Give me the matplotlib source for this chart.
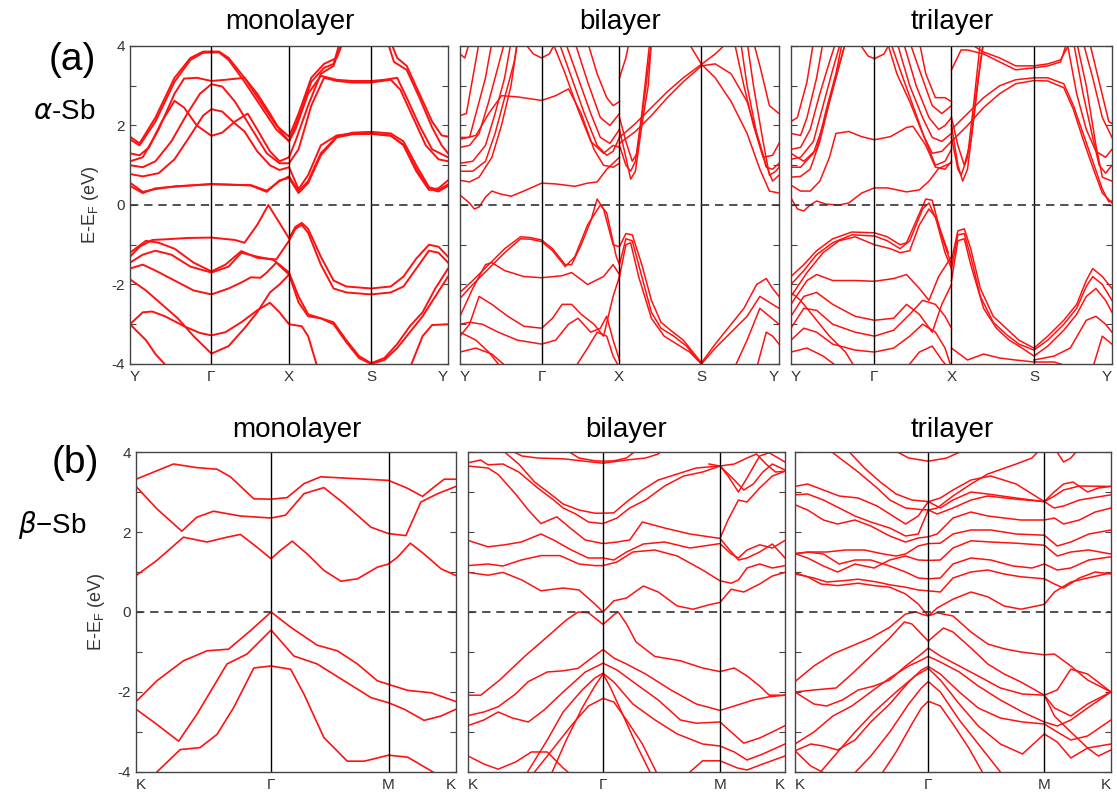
import matplotlib.pyplot as plt

plt.rcParams['font.family'] = ['Liberation Sans', 'DejaVu Sans']
plt.rcParams['mathtext.fontset'] = 'dejavusans'

# ---- high symmetry points (fraction of path length) ----
a_labels = ['Y', 'Γ', 'X', 'S', 'Y']
b_labels = ['K', 'Γ', 'M', 'K']
a1_sym = [0, 0.256, 0.50, 0.758, 1]
a2_sym = [0, 0.256, 0.499, 0.757, 1]
a3_sym = [0, 0.259, 0.50, 0.757, 1]
b1_sym = [0, 0.422, 0.789, 1]
b2_sym = [0, 0.426, 0.795, 1]
b3_sym = [0, 0.422, 0.789, 1]

# ---- alpha-Sb monolayer: bands as (k, E) ----
a1_bands = [
    [(0, .56), (.04, .33), (.08, .40), (.14, .47), (.256, .52), (.38, .50), (.43, .36), (.47, .60), (.50, .72), (.53, .35),
     (.56, .6), (.60, 1.3), (.65, 1.72), (.70, 1.82), (.758, 1.84), (.82, 1.8), (.86, 1.6), (.90, 1.0), (.94, .45), (.97, .38), (1, .52)],
    [(0, .48), (.04, .30), (.08, .42), (.14, .46), (.256, .53), (.38, .49), (.43, .33), (.47, .62), (.50, .68), (.53, .30),
     (.56, .55), (.60, 1.25), (.65, 1.7), (.70, 1.78), (.758, 1.79), (.82, 1.74), (.86, 1.52), (.90, .9), (.94, .4), (.97, .34), (1, .48)],
    [(0, .78), (.04, .72), (.09, .80), (.14, 1.15), (.19, 1.75), (.23, 2.25), (.256, 2.41), (.29, 2.35), (.33, 2.05), (.36, 1.85),
     (.40, 1.35), (.44, 1.0), (.47, .88), (.50, .95), (.53, .40), (.56, .75), (.60, 1.5), (.65, 1.75), (.70, 1.8), (.758, 1.8),
     (.82, 1.75), (.86, 1.5), (.90, .85), (.94, .38), (.97, .42), (1, .62)],
    [(0, 1.3), (.03, 1.25), (.06, 1.45), (.10, 2.1), (.14, 2.62), (.17, 2.45), (.21, 2.0), (.256, 1.74), (.29, 1.82), (.33, 2.1),
     (.37, 2.3), (.40, 1.9), (.44, 1.35), (.47, 1.1), (.50, 1.2), (.52, 1.6), (.56, 2.5), (.60, 3.3), (.64, 3.5), (.67, 4.2)],
    [(0, 1.0), (.04, .95), (.08, 1.1), (.13, 1.6), (.18, 2.3), (.22, 2.8), (.256, 3.04), (.29, 2.98), (.33, 2.6), (.38, 1.95),
     (.43, 1.3), (.47, 1.05), (.50, 1.05), (.53, 1.4), (.57, 2.5), (.61, 3.2), (.65, 3.12), (.70, 3.08), (.758, 3.08),
     (.82, 3.15), (.85, 2.9), (.89, 2.2), (.93, 1.5), (.97, 1.15), (1, 1.1)],
    [(0, 1.1), (.04, 1.2), (.09, 1.9), (.14, 2.8), (.17, 3.18), (.21, 3.2), (.256, 3.12), (.30, 3.15), (.36, 3.2), (.40, 2.8),
     (.44, 2.3), (.47, 1.9), (.50, 1.6), (.52, 1.9), (.56, 2.8), (.60, 3.25), (.65, 3.15), (.70, 3.12), (.758, 3.12),
     (.80, 3.15), (.84, 3.2), (.87, 2.7), (.91, 2.0), (.95, 1.4), (1, 1.2)],
    [(0, 1.72), (.03, 1.55), (.08, 2.2), (.14, 3.2), (.19, 3.7), (.23, 3.86), (.28, 3.86), (.31, 3.7), (.36, 3.2), (.41, 2.6),
     (.46, 2.0), (.50, 1.72), (.53, 2.3), (.57, 3.2), (.61, 3.55), (.65, 3.7), (.67, 4.1)],
    [(.82, 4.1), (.84, 3.7), (.87, 3.5), (.91, 2.8), (.95, 2.1), (.98, 1.75), (1, 1.72)],
    [(0, 1.65), (.03, 1.5), (.08, 2.1), (.14, 3.1), (.19, 3.65), (.23, 3.83), (.28, 3.84), (.31, 3.65), (.36, 3.1), (.41, 2.5),
     (.46, 1.9), (.50, 1.6), (.53, 2.2), (.57, 3.1), (.61, 3.45), (.64, 3.55), (.66, 4.1)],
    [(.81, 4.1), (.83, 3.6), (.87, 3.4), (.91, 2.7), (.95, 1.95), (.98, 1.5), (1, 1.3)],
    [(0, -1.3), (.03, -1.05), (.07, -.88), (.12, -.86), (.18, -.83), (.256, -.82), (.33, -.88), (.36, -.95), (.40, -.5), (.435, 0),
     (.47, -.45), (.50, -.84), (.52, -.55), (.54, -.45), (.56, -.6), (.60, -1.3), (.64, -1.9), (.68, -2.05), (.758, -2.1),
     (.82, -2.05), (.86, -1.8), (.90, -1.35), (.94, -1.0), (.97, -1.05), (1, -1.3)],
    [(0, -1.2), (.05, -.9), (.09, -.95), (.14, -1.1), (.20, -1.45), (.256, -1.67), (.30, -1.5), (.35, -1.16), (.40, -1.33),
     (.46, -1.37), (.50, -.9), (.52, -.6), (.54, -.5), (.56, -.7), (.60, -1.5), (.64, -2.1), (.68, -2.2), (.758, -2.25),
     (.82, -2.2), (.86, -2.05), (.90, -1.6), (.94, -1.15), (.97, -1.2), (1, -1.45)],
    [(0, -1.45), (.04, -1.25), (.08, -1.15), (.13, -1.25), (.19, -1.55), (.256, -1.70), (.31, -1.55), (.35, -1.2), (.40, -1.3),
     (.45, -1.38), (.47, -1.5), (.50, -1.7), (.53, -2.3), (.56, -2.75), (.60, -2.85), (.64, -2.95), (.68, -3.4), (.72, -3.8),
     (.758, -3.98), (.80, -3.85), (.84, -3.5), (.88, -3.05), (.92, -2.7), (.96, -2.1), (1, -1.6)],
    [(0, -1.6), (.04, -1.5), (.08, -1.65), (.14, -1.9), (.20, -2.15), (.256, -2.25), (.31, -2.1), (.35, -1.95), (.38, -1.82),
     (.41, -1.83), (.43, -1.7), (.46, -1.45), (.50, -1.75), (.53, -2.45), (.56, -2.8), (.60, -2.85), (.64, -3.0), (.68, -3.45),
     (.72, -3.85), (.758, -4.0), (.80, -3.9), (.84, -3.6), (.88, -3.2), (.92, -2.8), (.96, -2.3), (1, -1.8)],
    [(0, -1.87), (.05, -2.15), (.10, -2.5), (.15, -2.85), (.20, -3.3), (.256, -3.74), (.31, -3.55), (.36, -3.1), (.40, -2.7),
     (.44, -2.2), (.47, -2.0), (.50, -1.75)],
    [(0, -3.0), (.04, -2.7), (.07, -2.68), (.11, -2.8), (.17, -3.05), (.22, -3.22), (.256, -3.28), (.30, -3.2), (.35, -2.95),
     (.40, -2.65), (.44, -2.46), (.47, -2.7), (.50, -3.0), (.54, -3.05), (.56, -3.3), (.59, -4.1)],
    [(.88, -4.1), (.92, -3.3), (.95, -3.02), (1, -3.0)],
    [(0, -3.0), (.05, -3.4), (.08, -3.75), (.12, -4.1)],
]

# ---- alpha-Sb bilayer ----
a2_bands = [
    [(0, .25), (.03, .05), (.045, -.1), (.06, -.05), (.08, .2), (.10, .35), (.125, .28), (.16, .22), (.20, .35), (.256, .55),
     (.30, .53), (.36, .47), (.40, .55), (.43, .58), (.46, .9), (.50, 1.2)],
    [(0, .62), (.03, .58), (.06, .7), (.10, 1.2), (.13, 2.0), (.16, 3.0), (.18, 4.1)],
    [(0, .85), (.04, .85), (.08, 1.1), (.11, 1.8), (.14, 2.7), (.17, 3.6), (.18, 4.1)],
    [(0, 1.05), (.04, 1.1), (.08, 1.5), (.11, 2.3), (.14, 3.2), (.16, 4.1)],
    [(0, 1.45), (.03, 1.5), (.06, 1.8), (.09, 2.6), (.12, 3.5), (.14, 4.1)],
    [(0, 1.7), (.03, 1.7), (.05, 2.3), (.08, 3.2), (.10, 4.1)],
    [(0, 2.25), (.02, 2.3), (.04, 3.2), (.06, 4.1)],
    [(0, 3.8), (.015, 3.7), (.03, 4.1)],
    [(0, 1.65), (.05, 1.75), (.09, 2.3), (.13, 2.75), (.18, 2.72), (.256, 2.63), (.30, 2.75), (.34, 2.92), (.38, 2.3),
     (.42, 1.4), (.45, 1.0), (.48, .95), (.50, 1.05)],
    [(.2, 4.1), (.23, 3.8), (.256, 3.7), (.28, 3.8), (.30, 4.1)],
    [(.29, 4.1), (.33, 3.3), (.37, 2.4), (.41, 1.6), (.45, 1.3), (.48, 1.5), (.50, 1.45)],
    [(.31, 4.1), (.35, 3.2), (.39, 2.3), (.43, 1.5), (.46, 1.25), (.48, 1.35), (.50, 1.7)],
    [(.33, 4.1), (.37, 3.2), (.41, 2.3), (.44, 1.7), (.47, 1.55), (.50, 1.9)],
    [(.36, 4.1), (.40, 3.1), (.44, 2.2), (.47, 2.0), (.50, 2.3)],
    [(.40, 4.1), (.43, 3.3), (.46, 2.7), (.48, 2.5), (.50, 2.6)],
    [(.50, 3.2), (.52, 3.7), (.53, 4.1)],
    [(.50, 1.7), (.55, 2.05), (.60, 2.45), (.65, 2.85), (.70, 3.2), (.757, 3.54), (.80, 3.8), (.84, 4.1)],
    [(.50, 1.55), (.55, 1.85), (.60, 2.25), (.65, 2.7), (.70, 3.1), (.757, 3.5), (.80, 3.55), (.85, 3.3), (.90, 2.6),
     (.93, 1.8), (.96, 1.0), (.98, .6), (1, .75)],
    [(.70, 4.3), (.757, 3.54), (.80, 3.2), (.85, 2.6), (.90, 1.8), (.94, .9), (.97, .35), (1, .3)],
    [(.50, 1.9), (.52, 1.2), (.535, .65), (.55, .85), (.57, 2.0), (.59, 3.0), (.60, 4.1)],
    [(.50, 1.5), (.52, 1.0), (.535, .85), (.55, 1.1), (.57, 2.3), (.595, 4.1)],
    [(.50, 2.2), (.52, 1.6), (.54, 1.1), (.555, 1.3), (.58, 2.8), (.60, 4.1)],
    [(.88, 4.1), (.90, 3.0), (.93, 1.8), (.96, .95), (.98, .9), (1, 1.05)],
    [(.90, 4.1), (.92, 3.0), (.95, 1.6), (.97, .75), (.99, .85), (1, .95)],
    [(.86, 4.1), (.89, 3.0), (.92, 2.0), (.95, 1.2), (.98, 1.25), (1, 1.55)],
    [(.92, 4.1), (.94, 3.5), (.97, 2.5), (1, 2.3)],
    [(0, -2.2), (.04, -1.9), (.09, -1.5), (.14, -1.1), (.19, -.8), (.22, -.82), (.256, -.88), (.29, -1.1), (.33, -1.5),
     (.35, -1.5), (.38, -1.0), (.41, -.4), (.43, .15), (.45, -.1), (.48, -1.0), (.50, -1.05), (.52, -.72), (.54, -.75),
     (.57, -1.5), (.60, -2.4), (.63, -2.95), (.66, -3.15), (.70, -3.4), (.73, -3.7), (.757, -3.97), (.80, -3.5), (.85, -3.0),
     (.89, -2.6), (.93, -2.0), (.96, -1.85), (.98, -2.1), (1, -2.3)],
    [(0, -2.35), (.04, -2.0), (.09, -1.6), (.14, -1.2), (.19, -.85), (.22, -.86), (.256, -.92), (.29, -1.15), (.33, -1.55),
     (.36, -1.3), (.40, -.5), (.44, 0), (.46, -.2), (.49, -1.3), (.50, -1.5), (.52, -.85), (.54, -.9), (.57, -1.8),
     (.60, -2.7), (.63, -3.1), (.67, -3.3), (.71, -3.55), (.74, -3.85), (.757, -4.0)],
    [(.50, -1.8), (.52, -1.0), (.535, -.95), (.56, -1.8), (.60, -2.85), (.64, -3.3), (.68, -3.5), (.72, -3.7), (.757, -4.0)],
    [(0, -2.8), (.04, -2.1), (.08, -1.5), (.10, -1.45), (.14, -1.65), (.20, -1.8), (.256, -1.83), (.32, -1.78), (.35, -1.7),
     (.40, -2.0), (.45, -1.8), (.48, -1.5), (.50, -1.75)],
    [(0, -3.3), (.03, -3.0), (.06, -2.3), (.10, -2.5), (.15, -2.8), (.20, -3.05), (.256, -3.1), (.29, -2.85), (.32, -2.5),
     (.35, -2.5), (.38, -2.75), (.42, -3.0), (.45, -3.3), (.48, -2.3), (.50, -1.8)],
    [(0, -3.0), (.03, -2.95), (.07, -3.0), (.12, -3.2), (.18, -3.4), (.256, -3.5), (.30, -3.4), (.34, -3.0), (.37, -2.85),
     (.41, -3.2), (.44, -3.1), (.46, -2.8), (.48, -3.4), (.50, -3.9)],
    [(0, -3.7), (.05, -3.6), (.10, -3.75), (.15, -4.1)],
    [(0, -3.2), (.05, -3.4), (.09, -3.7), (.13, -4.1)],
    [(.36, -4.1), (.40, -3.6), (.43, -3.2), (.46, -3.3), (.48, -3.8), (.50, -4.1)],
    [(.757, -4.0), (.80, -3.6), (.85, -3.2), (.90, -2.8), (.94, -2.3), (.97, -2.45), (1, -2.6)],
    [(.86, -4.1), (.90, -3.4), (.94, -2.6), (.97, -2.8), (1, -3.0)],
    [(.93, -4.1), (.96, -3.2), (.98, -3.3), (1, -3.5)],
]

# ---- alpha-Sb trilayer ----
a3_bands = [
    [(0, .18), (.02, -.1), (.04, -.15), (.06, 0), (.08, .1), (.11, .02), (.15, 0), (.18, .05), (.22, .3), (.26, .43),
     (.30, .43), (.36, .33), (.40, .38), (.43, .6), (.46, .92), (.50, 1.06)],
    [(0, .5), (.03, .35), (.06, .35), (.09, .6), (.12, 1.2), (.14, 1.8), (.18, 1.85), (.22, 1.72), (.26, 1.64), (.31, 1.72),
     (.36, 1.95), (.38, 1.98), (.42, 1.5), (.45, .95), (.48, .9), (.50, 1.1)],
    [(0, .7), (.03, .72), (.06, .9), (.09, 1.6), (.12, 2.6), (.15, 3.5), (.17, 4.1)],
    [(0, .95), (.03, .95), (.07, 1.3), (.10, 2.0), (.13, 2.9), (.16, 3.8), (.17, 4.1)],
    [(0, 1.15), (.03, 1.2), (.07, 1.6), (.10, 2.5), (.13, 3.4), (.155, 4.1)],
    [(0, 1.4), (.03, 1.45), (.06, 1.9), (.09, 2.8), (.12, 3.6), (.14, 4.1)],
    [(0, 1.8), (.03, 1.75), (.05, 2.2), (.08, 3.2), (.10, 4.1)],
    [(0, 2.1), (.02, 2.2), (.05, 3.1), (.07, 4.1)],
    [(0, 1.3), (.04, 1.1), (.08, 1.4), (.11, 2.4), (.14, 3.3), (.16, 4.1)],
    [(.21, 4.1), (.24, 3.75), (.26, 3.68), (.29, 3.8), (.31, 4.1)],
    [(.31, 4.1), (.34, 3.4), (.38, 2.5), (.42, 1.6), (.45, 1.0), (.48, 1.1), (.50, 1.4)],
    [(.30, 4.1), (.33, 3.3), (.37, 2.6), (.41, 1.8), (.44, 1.3), (.47, 1.35), (.50, 1.6)],
    [(.33, 4.1), (.37, 3.0), (.41, 2.2), (.44, 1.7), (.47, 1.6), (.50, 1.8)],
    [(.35, 4.1), (.39, 3.0), (.43, 2.2), (.46, 1.9), (.48, 2.0), (.50, 2.2)],
    [(.37, 4.1), (.40, 3.4), (.44, 2.5), (.47, 2.3), (.50, 2.5)],
    [(.40, 4.1), (.42, 3.3), (.45, 2.7), (.48, 2.7), (.50, 2.6)],
    [(.50, 2.0), (.52, 1.0), (.535, .6), (.55, .9), (.57, 2.2), (.59, 3.6), (.60, 4.1)],
    [(.50, 1.7), (.52, .9), (.53, .75), (.55, 1.2), (.57, 2.6), (.59, 4.1)],
    [(.50, 2.2), (.52, 1.5), (.54, 1.0), (.56, 1.6), (.58, 3.0), (.60, 4.1)],
    [(.50, 1.9), (.55, 2.3), (.60, 2.7), (.65, 3.0), (.70, 3.15), (.757, 3.2), (.80, 3.2), (.85, 3.05), (.88, 2.5),
     (.91, 1.8), (.94, 1.1), (.97, .4), (.99, .08), (1, .1)],
    [(.50, 1.6), (.55, 2.0), (.60, 2.45), (.65, 2.8), (.70, 3.05), (.757, 3.13), (.80, 3.12), (.85, 2.95), (.88, 2.4),
     (.91, 1.65), (.94, .95), (.97, .3), (1, .05)],
    [(.50, 3.4), (.53, 3.9), (.55, 3.9), (.60, 3.8), (.65, 3.6), (.70, 3.4), (.757, 3.45), (.80, 3.5), (.84, 3.6), (.86, 4.1)],
    [(.55, 4.1), (.60, 3.85), (.65, 3.7), (.70, 3.5), (.757, 3.5), (.80, 3.55), (.84, 3.65), (.87, 4.1)],
    [(.86, 4.1), (.89, 2.8), (.92, 1.9), (.95, 1.35), (.98, 1.2), (1, 1.4)],
    [(.88, 4.1), (.91, 2.8), (.94, 1.7), (.96, 1.0), (.98, .8), (1, 1.0)],
    [(.89, 4.1), (.92, 3.0), (.95, 1.5), (.97, .7), (1, .6)],
    [(.91, 4.1), (.94, 3.2), (.97, 2.2), (1, 1.7)],
    [(.93, 4.1), (.96, 3.1), (.99, 2.1), (1, 2.05)],
    [(0, -1.8), (.04, -1.5), (.08, -1.15), (.13, -.85), (.19, -.68), (.26, -.7), (.30, -.8), (.34, -1.0), (.36, -.95),
     (.39, -.4), (.42, .15), (.44, .12), (.47, -.8), (.50, -1.5)],
    [(0, -2.0), (.04, -1.65), (.08, -1.25), (.13, -.95), (.19, -.75), (.26, -.78), (.30, -.9), (.34, -1.1), (.37, -.9),
     (.41, -.1), (.43, .05), (.46, -.5), (.49, -1.2)],
    [(0, -2.3), (.05, -1.7), (.10, -1.2), (.15, -.9), (.20, -.8), (.26, -1.0), (.31, -1.1), (.34, -1.2), (.37, -1.15),
     (.40, -.5), (.43, -.1), (.45, -.3), (.48, -1.2), (.50, -1.6)],
    [(0, -2.5), (.05, -1.9), (.08, -1.75), (.13, -1.9), (.20, -1.9), (.26, -1.92), (.32, -1.85), (.36, -1.75), (.40, -2.1),
     (.43, -2.4), (.46, -1.8), (.50, -1.3)],
    [(.50, -1.4), (.52, -.65), (.54, -.6), (.56, -1.1), (.59, -2.1), (.63, -2.8), (.67, -3.1), (.71, -3.4), (.757, -3.6),
     (.80, -3.3), (.85, -2.9), (.89, -2.5), (.92, -1.9), (.94, -1.6), (.97, -1.8), (1, -2.1)],
    [(.50, -1.6), (.52, -.75), (.54, -.72), (.56, -1.3), (.59, -2.3), (.63, -2.95), (.67, -3.25), (.71, -3.5), (.757, -3.65),
     (.80, -3.4), (.85, -3.0), (.89, -2.6), (.92, -2.05), (.94, -1.8), (.97, -2.0), (1, -2.4)],
    [(.50, -1.9), (.52, -.9), (.54, -.85), (.56, -1.5), (.60, -2.6), (.64, -3.1), (.68, -3.4), (.72, -3.6), (.757, -3.8),
     (.80, -3.55), (.85, -3.15), (.89, -2.75), (.92, -2.3), (.95, -2.1), (.98, -2.4), (1, -2.7)],
    [(.757, -3.9), (.82, -3.8), (.87, -3.6), (.92, -2.9), (.95, -2.8), (.98, -3.0), (1, -3.2)],
    [(0, -2.8), (.04, -2.3), (.08, -2.2), (.13, -2.5), (.20, -2.8), (.26, -2.9), (.32, -2.85), (.36, -2.5), (.40, -2.75),
     (.44, -3.2), (.47, -2.5), (.50, -2.0)],
    [(0, -3.1), (.04, -2.6), (.08, -2.65), (.13, -3.0), (.20, -3.2), (.26, -3.3), (.32, -3.15), (.37, -2.75), (.41, -2.4),
     (.45, -2.5), (.48, -2.8), (.50, -3.1)],
    [(0, -3.4), (.04, -3.1), (.08, -3.2), (.13, -3.5), (.20, -3.65), (.26, -3.7), (.32, -3.6), (.37, -3.3), (.41, -3.0),
     (.45, -3.2), (.48, -3.6), (.50, -4.1)],
    [(0, -3.7), (.05, -3.6), (.10, -3.8), (.15, -4.1)],
    [(.36, -4.1), (.40, -3.7), (.44, -3.55), (.47, -3.9), (.49, -4.1)],
    [(0, -2.2), (.03, -2.4), (.07, -2.8), (.12, -3.3), (.17, -3.7), (.20, -4.1)],
    [(.50, -3.6), (.55, -3.9), (.60, -3.75), (.65, -3.85), (.70, -3.9), (.757, -3.95), (.82, -3.95), (.88, -4.1)],
    [(.94, -4.1), (.97, -3.3), (1, -3.5)],
]

# ---- beta-Sb monolayer ----
b1_bands = [
    [(0, 3.32), (.117, 3.70), (.19, 3.61), (.253, 3.57), (.295, 3.38), (.368, 2.83), (.422, 2.82), (.472, 2.86), (.525, 3.21),
     (.577, 3.38), (.789, 3.29), (.849, 3.09), (.895, 2.89), (.932, 3.13), (.963, 3.32), (1, 3.32)],
    [(0, 3.14), (.065, 2.58), (.143, 2.02), (.19, 2.37), (.242, 2.52), (.326, 2.40), (.422, 2.35), (.467, 2.42), (.525, 2.96),
     (.587, 3.11), (.65, 2.71), (.734, 2.12), (.789, 1.96), (.843, 1.91), (.89, 2.75), (.943, 2.96), (1, 3.14)],
    [(0, .91), (.065, 1.29), (.148, 1.87), (.222, 1.75), (.284, 1.87), (.326, 1.94), (.378, 1.62), (.422, 1.33), (.451, 1.54),
     (.488, 1.77), (.535, 1.45), (.587, 1.04), (.64, .77), (.692, .83), (.754, 1.12), (.789, 1.20), (.817, 1.37), (.857, 1.72),
     (.90, 1.45), (.953, 1.08), (1, .91)],
    [(0, -2.24), (.065, -1.72), (.148, -1.22), (.222, -.97), (.289, -.93), (.357, -.47), (.422, 0), (.483, -.38), (.566, -.83),
     (.629, -.97), (.692, -1.30), (.754, -1.72), (.789, -1.81), (.849, -1.96), (.922, -2.02), (1, -2.24)],
    [(0, -2.43), (.065, -2.81), (.133, -3.23), (.19, -2.56), (.284, -1.30), (.347, -1.05), (.422, -.45), (.493, -1.10),
     (.566, -1.30), (.65, -1.72), (.734, -2.14), (.789, -2.27), (.838, -2.43), (.90, -2.71), (.953, -2.60), (1, -2.43)],
    [(.04, -4.3), (.065, -4.0), (.138, -3.44), (.20, -3.39), (.253, -3.06), (.305, -2.39), (.368, -1.40), (.422, -1.35),
     (.483, -1.43), (.525, -2.06), (.587, -3.14), (.66, -3.73), (.713, -3.73), (.789, -3.58), (.849, -3.63), (.932, -4.02),
     (.96, -4.3)],
]

# ---- beta-Sb bilayer ----
b2_bands = [
    [(0, .99), (.063, .92), (.11, .99), (.17, .8), (.23, .53), (.30, .6), (.35, .55), (.40, .2), (.426, 0), (.46, .28),
     (.50, .35), (.553, .65), (.60, .5), (.66, .15), (.71, .07), (.76, .18), (.795, .24), (.83, .57), (.87, .5), (.92, .7),
     (.96, .9), (1, .99)],
    [(0, 1.16), (.063, 1.2), (.11, 1.15), (.168, 1.3), (.23, 1.41), (.29, 1.41), (.35, 1.2), (.40, 1.16), (.426, 1.16),
     (.47, 1.25), (.52, 1.5), (.589, 1.55), (.66, 1.4), (.74, 1.05), (.795, .78), (.83, .72), (.853, .8), (.88, 1.1),
     (.92, 1.2), (.96, 1.1), (1, 1.16)],
    [(0, 1.79), (.063, 1.63), (.116, 1.68), (.168, 1.75), (.23, 1.95), (.27, 1.8), (.326, 1.55), (.379, 1.35), (.426, 1.35),
     (.46, 1.3), (.50, 1.5), (.553, 1.7), (.62, 1.75), (.70, 1.6), (.795, 1.71), (.83, 1.45), (.853, 1.35), (.88, 1.55),
     (.92, 1.68), (.96, 1.6), (1, 1.79)],
    [(0, 3.65), (.063, 3.6), (.095, 3.44), (.15, 2.95), (.19, 2.55), (.23, 2.21), (.28, 2.38), (.33, 2.05), (.37, 1.8),
     (.426, 1.71), (.47, 1.75), (.51, 1.8), (.55, 2.25), (.62, 2.1), (.70, 1.95), (.795, 1.84), (.82, 1.6), (.853, 1.3),
     (.88, 1.35), (.92, 1.5), (.96, 1.7), (1, 1.35)],
    [(0, 3.73), (.04, 3.8), (.063, 3.68), (.11, 3.7), (.16, 3.5), (.22, 3.1), (.27, 2.8), (.30, 2.6), (.34, 2.45),
     (.38, 2.25), (.426, 2.21), (.47, 2.35), (.51, 2.6), (.56, 2.8), (.62, 3.15), (.68, 3.4), (.74, 3.5), (.795, 3.65),
     (.84, 3.3), (.87, 3.05), (.90, 3.2), (.93, 3.5), (.96, 3.7), (1, 3.55)],
    [(.10, 4.1), (.16, 3.7), (.21, 3.25), (.26, 2.95), (.30, 2.7), (.35, 2.55), (.40, 2.47), (.426, 2.47), (.46, 2.48),
     (.50, 2.75), (.55, 3.05), (.60, 3.3), (.66, 3.45), (.72, 3.6), (.795, 3.65), (.84, 3.7), (.88, 3.85), (.91, 3.95),
     (.94, 3.7), (.97, 3.5), (1, 3.52)],
    [(.30, 4.1), (.35, 3.85), (.40, 3.78), (.426, 3.77), (.46, 3.78), (.50, 3.85), (.54, 4.1)],
    [(.12, 4.1), (.17, 3.9), (.22, 3.85), (.30, 3.83), (.426, 3.72), (.50, 3.8), (.56, 3.85), (.60, 3.95), (.62, 4.1)],
    [(.795, 1.84), (.82, 2.3), (.853, 2.8), (.88, 2.75), (.92, 3.1), (.96, 3.4), (1, 3.52)],
    [(.76, 3.7), (.795, 3.65), (.82, 3.4), (.853, 3.0), (.88, 3.35), (.92, 3.9), (.95, 3.98), (1, 3.75)],
    [(0, -2.08), (.04, -2.08), (.10, -1.7), (.18, -1.1), (.26, -.55), (.31, -.2), (.347, 0), (.38, -.02), (.426, -.31),
     (.463, -.05), (.474, 0), (.50, -.3), (.53, -.75), (.589, -1.11), (.67, -1.22), (.74, -1.4), (.795, -1.49), (.84, -1.4),
     (.88, -1.6), (.92, -1.85), (.95, -2.08), (1, -2.08)],
    [(0, -2.59), (.05, -2.5), (.095, -2.37), (.15, -2.05), (.19, -1.74), (.25, -1.5), (.30, -1.47), (.347, -1.41),
     (.39, -1.15), (.426, -.94), (.46, -1.15), (.50, -1.3), (.56, -1.55), (.64, -1.95), (.72, -2.3), (.795, -2.46),
     (.84, -2.35), (.90, -2.2), (.95, -2.12), (1, -2.08)],
    [(0, -2.84), (.05, -2.7), (.095, -2.5), (.14, -2.65), (.19, -2.75), (.24, -2.45), (.30, -2.0), (.37, -1.5), (.426, -1.28),
     (.47, -1.45), (.53, -1.8), (.60, -2.2), (.67, -2.7), (.72, -2.78), (.795, -2.75), (.83, -3.0), (.87, -3.28),
     (.92, -3.15), (.96, -3.0), (1, -2.84)],
    [(.18, -4.1), (.25, -3.2), (.30, -2.5), (.36, -1.95), (.40, -1.65), (.426, -1.53), (.46, -1.75), (.52, -2.3),
     (.59, -2.7), (.66, -3.05), (.74, -3.3), (.795, -3.35), (.84, -3.5), (.88, -3.7), (.93, -3.55), (1, -3.3)],
    [(.26, -4.1), (.31, -3.2), (.36, -2.4), (.40, -1.85), (.426, -1.55), (.45, -1.9), (.49, -2.6), (.53, -3.3), (.58, -4.1)],
    [(.20, -4.1), (.27, -3.4), (.33, -2.8), (.38, -2.35), (.426, -2.16), (.46, -2.25), (.50, -2.7), (.55, -3.3), (.60, -4.1)],
    [(0, -3.6), (.05, -3.8), (.095, -3.93), (.15, -3.75), (.20, -3.5), (.25, -3.5), (.30, -3.9), (.33, -4.1)],
    [(.70, -4.0), (.74, -3.72), (.795, -3.72), (.85, -3.9), (.88, -3.95), (.93, -3.8), (1, -3.6)],
]

# ---- beta-Sb trilayer ----
b3_bands = [
    [(0, .98), (.04, .88), (.082, .7), (.135, .66), (.20, .72), (.25, .66), (.30, .62), (.35, .45), (.39, .2), (.422, -.1),
     (.45, .1), (.50, .32), (.557, .5), (.61, .38), (.662, .15), (.715, .07), (.789, .19), (.821, .5), (.873, .75),
     (.926, .85), (1, .98)],
    [(0, .95), (.06, .85), (.10, .75), (.15, .78), (.20, .82), (.26, .75), (.30, .68), (.35, .62), (.39, .55), (.422, .53),
     (.46, .5), (.50, .85), (.557, 1.0), (.61, 1.05), (.662, .95), (.715, .88), (.789, .83), (.821, .7), (.85, .6),
     (.90, .85), (.95, 1.0), (1, .95)],
    [(0, 1.46), (.04, 1.5), (.09, 1.45), (.14, 1.2), (.19, 1.3), (.24, 1.3), (.30, 1.15), (.35, 1.0), (.39, .85), (.422, .83),
     (.46, .85), (.50, 1.2), (.557, 1.35), (.62, 1.3), (.69, 1.15), (.75, 1.1), (.789, 1.2), (.83, 1.05), (.873, 1.1),
     (.93, 1.3), (1, 1.38)],
    [(0, 1.46), (.04, 1.35), (.09, 1.15), (.135, 1.0), (.19, 1.2), (.25, 1.1), (.30, 1.3), (.35, 1.4), (.39, 1.3),
     (.422, 1.29), (.46, 1.3), (.50, 1.6), (.557, 1.78), (.62, 1.75), (.70, 1.72), (.789, 1.67), (.83, 1.4), (.873, 1.5),
     (.93, 1.55), (1, 1.45)],
    [(0, 1.46), (.05, 1.5), (.10, 1.5), (.16, 1.55), (.22, 1.55), (.28, 1.45), (.32, 1.4), (.35, 1.45), (.39, 1.65),
     (.422, 1.71), (.46, 1.72), (.50, 1.95), (.557, 2.05), (.62, 2.05), (.70, 1.95), (.789, 1.92), (.83, 1.65), (.873, 1.75),
     (.93, 1.95), (1, 2.05)],
    [(0, 2.68), (.04, 2.55), (.09, 2.3), (.135, 2.2), (.19, 2.3), (.24, 2.15), (.30, 1.9), (.35, 1.75), (.39, 1.85),
     (.422, 1.88), (.45, 1.95), (.50, 2.35), (.557, 2.5), (.61, 2.4), (.662, 2.35), (.715, 2.3), (.789, 2.3), (.821, 2.35),
     (.85, 2.2), (.90, 2.3), (.95, 2.5), (1, 2.6)],
    [(0, 2.93), (.04, 2.95), (.09, 2.8), (.14, 2.6), (.19, 2.4), (.24, 2.25), (.30, 2.1), (.35, 1.9), (.39, 1.95),
     (.422, 2.55), (.45, 2.45), (.50, 2.6), (.557, 2.8), (.61, 2.9), (.70, 2.82), (.789, 2.76), (.82, 2.6), (.85, 2.65),
     (.90, 2.8), (1, 2.93)],
    [(0, 3.14), (.04, 3.2), (.09, 3.05), (.14, 2.9), (.20, 2.85), (.26, 2.65), (.30, 2.45), (.35, 2.2), (.39, 2.4),
     (.422, 2.76), (.46, 2.6), (.50, 2.8), (.557, 3.0), (.61, 2.95), (.70, 2.85), (.789, 2.76), (.821, 2.9), (.85, 3.05),
     (.90, 3.15), (1, 3.14)],
    [(.10, 4.1), (.15, 3.8), (.20, 3.5), (.26, 3.1), (.30, 2.8), (.35, 2.6), (.40, 2.56), (.422, 2.55), (.45, 2.6),
     (.50, 2.9), (.557, 3.2), (.61, 3.45), (.70, 3.7), (.75, 3.85), (.78, 4.1)],
    [(.16, 4.1), (.22, 3.6), (.27, 3.25), (.32, 2.95), (.37, 2.8), (.422, 2.76), (.46, 2.85), (.50, 3.05), (.557, 3.3),
     (.62, 3.4), (.70, 3.2), (.789, 2.76)],
    [(.30, 4.1), (.36, 3.85), (.422, 3.77), (.48, 3.85), (.55, 4.1)],
    [(.821, 4.1), (.85, 3.75), (.873, 3.85), (.90, 4.1)],
    [(.789, 2.76), (.82, 3.0), (.85, 3.2), (.88, 3.25), (.926, 3.0), (.96, 3.1), (1, 3.14)],
    [(0, -1.74), (.06, -1.35), (.12, -1.05), (.18, -.85), (.24, -.65), (.30, -.38), (.35, -.05), (.383, 0), (.40, -.05),
     (.422, -.1), (.45, -.02), (.50, -.1), (.557, -.5), (.61, -.8), (.662, -.92), (.715, -1.0), (.789, -1.07), (.821, -1.05),
     (.873, -1.35), (.926, -1.7), (1, -2.0)],
    [(0, -2.0), (.06, -1.95), (.13, -1.9), (.18, -1.55), (.24, -1.1), (.30, -.65), (.346, -.25), (.37, -.3), (.40, -.55),
     (.422, -.73), (.44, -.6), (.47, -.4), (.50, -.5), (.557, -.9), (.61, -1.3), (.662, -1.55), (.715, -1.75), (.789, -2.08),
     (.821, -2.4), (.873, -2.6), (.926, -2.3), (1, -2.0)],
    [(0, -2.0), (.06, -2.3), (.10, -2.35), (.15, -2.2), (.20, -1.95), (.25, -1.85), (.30, -1.7), (.35, -1.35), (.40, -1.05),
     (.422, -.9), (.46, -1.1), (.52, -1.35), (.58, -1.6), (.65, -1.9), (.72, -2.05), (.789, -2.08), (.83, -1.95),
     (.873, -1.43), (.926, -1.55), (1, -2.0)],
    [(0, -3.3), (.06, -3.0), (.12, -2.6), (.18, -2.35), (.24, -2.0), (.30, -1.65), (.36, -1.35), (.40, -1.2), (.422, -1.11),
     (.46, -1.25), (.52, -1.5), (.58, -1.85), (.65, -2.2), (.72, -2.5), (.789, -2.75), (.83, -2.85), (.873, -2.7),
     (.926, -2.4), (1, -2.0)],
    [(0, -3.47), (.05, -3.3), (.09, -3.35), (.135, -3.45), (.19, -3.2), (.24, -2.75), (.30, -2.3), (.36, -1.75), (.40, -1.45),
     (.422, -1.36), (.46, -1.55), (.52, -2.0), (.58, -2.4), (.65, -2.65), (.72, -2.75), (.789, -2.8), (.83, -3.0),
     (.873, -3.2), (.926, -3.1), (1, -2.7)],
    [(.07, -4.1), (.13, -3.55), (.19, -3.0), (.25, -2.5), (.32, -2.0), (.38, -1.6), (.422, -1.41), (.46, -1.7), (.52, -2.3),
     (.58, -2.85), (.65, -3.3), (.72, -3.55), (.789, -3.05), (.83, -3.25), (.873, -3.65), (.926, -3.4), (1, -3.3)],
    [(.18, -4.1), (.24, -3.6), (.30, -3.0), (.36, -2.3), (.40, -1.9), (.422, -1.74), (.46, -2.0), (.52, -2.7), (.58, -3.3),
     (.62, -3.7), (.66, -4.1)],
    [(.27, -4.1), (.32, -3.5), (.37, -2.8), (.40, -2.4), (.422, -2.23), (.46, -2.35), (.50, -2.8), (.55, -3.4), (.60, -4.1)],
    [(0, -3.47), (.05, -3.85), (.11, -4.1)],
    [(.789, -2.08), (.821, -2.6), (.873, -3.0), (.926, -3.4), (.96, -3.6), (1, -3.45)],
]

fig = plt.figure(figsize=(11.17, 7.93), dpi=100)

RED = '#ff1111'
GREY = '#444444'


def draw_panel(rect, bands, sym, labels, show_y, lw):
    ax = fig.add_axes(rect)
    for band in bands:
        k, e = zip(*band)
        ax.plot(k, e, color=RED, lw=lw, solid_joinstyle='round')
    for p in sym[1:-1]:
        ax.axvline(p, color='k', lw=1.0)
    ax.axhline(0, color='#333333', lw=1.2, ls=(0, (5, 3.5)))
    ax.set_xlim(0, 1)
    ax.set_ylim(-4, 4)
    ax.set_xticks(sym)
    ax.set_xticklabels(labels, fontsize=11, color='#333333')
    ax.tick_params(axis='x', length=0, pad=4)
    xt = ax.get_xticklabels()
    xt[0].set_ha('left')
    xt[-1].set_ha('right')
    ax.set_yticks([-4, -2, 0, 2, 4])
    ax.set_yticks([-3, -1, 1, 3], minor=True)
    ax.tick_params(axis='y', which='both', direction='in', left=True, right=True, length=4, width=0.8, color=GREY)
    if show_y:
        ax.set_yticklabels(['-4', '-2', '0', '2', '4'], fontsize=11, color='#333333')
        ax.set_ylabel('E-E$_\\mathregular{F}$ (eV)', fontsize=13, color='#333333', labelpad=8)
    else:
        ax.set_yticklabels([])
    for s in ax.spines.values():
        s.set_color(GREY)
        s.set_linewidth(1.0)
    return ax


draw_panel([0.1164, 0.541, 0.2847, 0.401], a1_bands, a1_sym, a_labels, True, 1.4)
draw_panel([0.4118, 0.541, 0.2856, 0.401], a2_bands, a2_sym, a_labels, False, 1.1)
draw_panel([0.7081, 0.541, 0.2874, 0.401], a3_bands, a3_sym, a_labels, False, 1.1)
draw_panel([0.1218, 0.0265, 0.2865, 0.4035], b1_bands, b1_sym, b_labels, True, 1.2)
draw_panel([0.4190, 0.0265, 0.2838, 0.4035], b2_bands, b2_sym, b_labels, False, 1.1)
draw_panel([0.7117, 0.0265, 0.2829, 0.4035], b3_bands, b3_sym, b_labels, False, 1.1)

for x, t in [(290, 'monolayer'), (620, 'bilayer'), (952, 'trilayer')]:
    fig.text(x / 1117, 1 - 22 / 793, t, fontsize=20, ha='center', va='center')
for x, t in [(297, 'monolayer'), (626, 'bilayer'), (952, 'trilayer')]:
    fig.text(x / 1117, 1 - 430 / 793, t, fontsize=20, ha='center', va='center')

fig.text(72 / 1117, 1 - 60 / 793, '(a)', fontsize=28, ha='center', va='center')
fig.text(64 / 1117, 1 - 112 / 793, r'$\alpha$-Sb', fontsize=20, ha='center', va='center')
fig.text(75 / 1117, 1 - 463 / 793, '(b)', fontsize=28, ha='center', va='center')
fig.text(52 / 1117, 1 - 525 / 793, r'$\beta$−Sb', fontsize=20, ha='center', va='center')

fig.savefig('out.png', dpi=100)
